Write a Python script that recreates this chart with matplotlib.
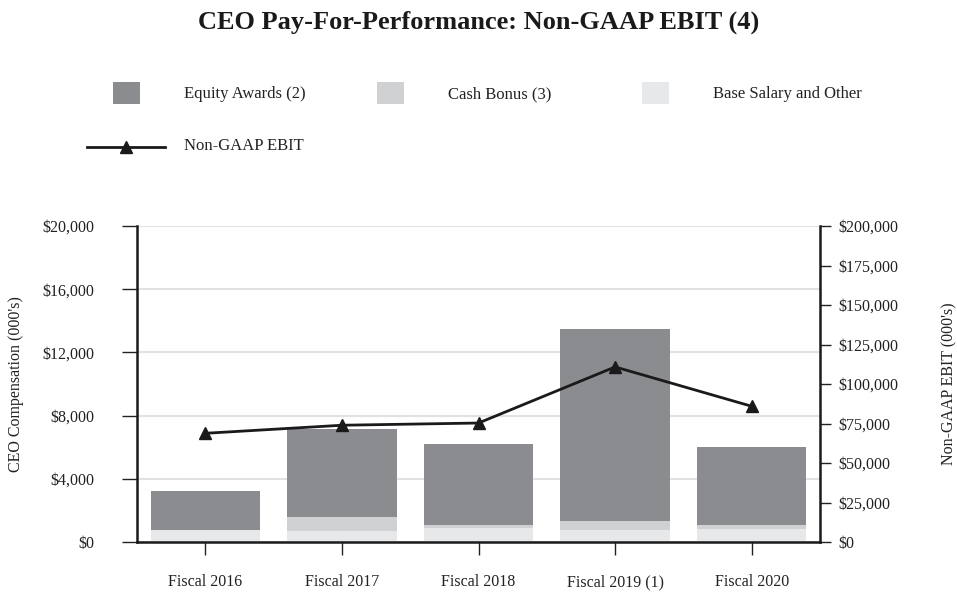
import matplotlib
matplotlib.use("Agg")
import matplotlib.pyplot as plt
from matplotlib.ticker import FuncFormatter
from matplotlib.patches import Rectangle
from matplotlib.lines import Line2D

plt.rcParams['font.family'] = ['Liberation Serif', 'DejaVu Serif']

categories = ["Fiscal 2016", "Fiscal 2017", "Fiscal 2018", "Fiscal 2019 (1)", "Fiscal 2020"]
base_salary = [740, 700, 900, 740, 850]
cash_bonus = [0, 880, 150, 570, 210]
equity_awards = [2470, 5550, 5130, 12140, 4940]
ebit = [68800, 73900, 75300, 110800, 85900]

left_ticks = [0, 4000, 8000, 12000, 16000, 20000]
right_ticks = [0, 25000, 50000, 75000, 100000, 125000, 150000, 175000, 200000]

c_equity = "#8b8c8f"
c_cash = "#d0d1d3"
c_base = "#e7e8e9"
txt = '#222222'

W, H = 957, 594
fig = plt.figure(figsize=(W / 100, H / 100), dpi=100)
ax = fig.add_axes([137 / W, 1 - 542 / H, (820 - 137) / W, (542 - 226) / H])

x = list(range(len(categories)))
bw = 0.8
ax.bar(x, base_salary, width=bw, color=c_base, zorder=2)
ax.bar(x, cash_bonus, width=bw, bottom=base_salary, color=c_cash, zorder=2)
bot2 = [b + c for b, c in zip(base_salary, cash_bonus)]
ax.bar(x, equity_awards, width=bw, bottom=bot2, color=c_equity, zorder=2)

ax.set_xlim(-0.5, len(categories) - 0.5)
ax.set_ylim(0, 20000)
ax.set_yticks(left_ticks)
ax.yaxis.set_major_formatter(FuncFormatter(lambda v, p: "${:,.0f}".format(v)))
ax.set_xticks(x)
ax.set_xticklabels(categories)
ax.grid(axis='y', color="#e2e2e2", lw=1.5)
ax.set_axisbelow(True)
ax.tick_params(axis='y', direction='out', length=11, width=1, pad=20, labelsize=11.5, colors=txt)
ax.tick_params(axis='x', direction='out', length=9, width=1, pad=14, labelsize=11.5, colors=txt)
for s in ['top', 'right']:
    ax.spines[s].set_visible(False)
for s in ['left', 'bottom']:
    ax.spines[s].set_linewidth(1.8)
    ax.spines[s].set_color('#1a1a1a')
ax.set_ylabel("CEO Compensation (000's)", fontsize=11.5, color=txt)
ax.yaxis.set_label_coords((24 - 137) / 683, 0.5)

ax2 = ax.twinx()
ax2.plot(x, ebit, color="#1a1a1a", lw=2, marker='^', markersize=9, zorder=5)
ax2.set_ylim(0, 200000)
ax2.set_yticks(right_ticks)
ax2.yaxis.set_major_formatter(FuncFormatter(lambda v, p: "${:,.0f}".format(v)))
ax2.tick_params(axis='y', direction='out', length=8, width=1, pad=5, labelsize=11.5, colors=txt)
for s in ['top', 'left', 'bottom']:
    ax2.spines[s].set_visible(False)
ax2.spines['right'].set_linewidth(1.8)
ax2.spines['right'].set_color('#1a1a1a')
ax2.set_ylabel("Non-GAAP EBIT (000's)", fontsize=11.5, color=txt)
ax2.yaxis.set_label_coords((941 - 137) / 683, 0.5)

fig.text(0.5, 1 - 22 / H, "CEO Pay-For-Performance: Non-GAAP EBIT (4)", ha='center', va='center',
         fontsize=19, fontweight='bold', color='#1a1a1a')

# legend
def fx(px):
    return px / W
def fy(py):
    return 1 - py / H

legend_items = [(113, c_equity, "Equity Awards (2)"), (377, c_cash, "Cash Bonus (3)"), (642, c_base, "Base Salary and Other")]
for px, col, lab in legend_items:
    fig.patches.append(Rectangle((fx(px), fy(104)), 27 / W, 22 / H, transform=fig.transFigure,
                                 facecolor=col, edgecolor='none'))
    fig.text(fx(px + 71), fy(94), lab, ha='left', va='center', fontsize=12, color=txt)
fig.lines.append(Line2D([fx(87), fx(165)], [fy(147), fy(147)], transform=fig.transFigure,
                        color='#1a1a1a', lw=2))
fig.lines.append(Line2D([fx(126)], [fy(147)], transform=fig.transFigure, color='#1a1a1a',
                        marker='^', markersize=9, lw=0))
fig.text(fx(184), fy(146), "Non-GAAP EBIT", ha='left', va='center', fontsize=12, color=txt)

fig.savefig("out.png", dpi=100)
